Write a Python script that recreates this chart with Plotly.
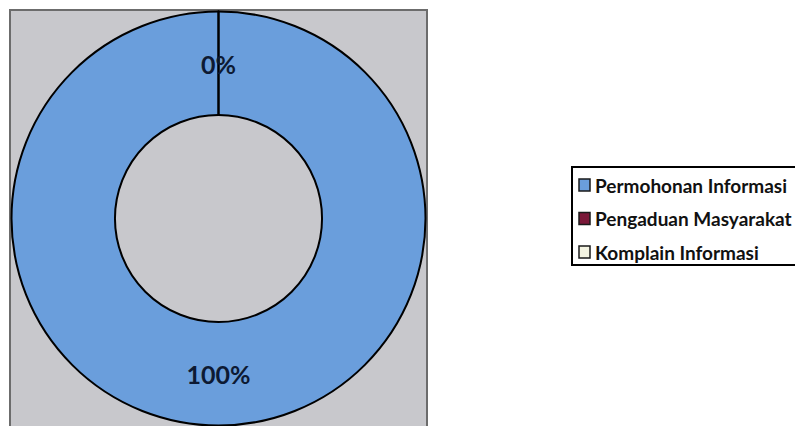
import plotly.graph_objects as go

labels = ["Permohonan Informasi", "Pengaduan Masyarakat", "Komplain Informasi"]
values = [100, 0, 0]
colors = ["#6a9edc", "#7a1838", "#f4f4e2"]

W, H = 803, 426
OFF = 8  # page body margin


def px(X):
    return (X - OFF) / W


def py(Y):
    return 1 - (Y - OFF) / H


# donut geometry in window pixels
CX, CY, R = 218.5, 218.5, 207
HOLE = 0.5

fig = go.Figure()
fig.add_trace(go.Pie(
    labels=labels,
    values=values,
    hole=HOLE,
    sort=False,
    direction="clockwise",
    rotation=0,
    marker=dict(colors=colors, line=dict(color="#000000", width=2)),
    textinfo="percent",
    texttemplate="%{percent:.0%}",
    textposition="inside",
    insidetextorientation="horizontal",
    textfont=dict(family="Lato", size=25, color="#0d1a33", weight="bold"),
    domain=dict(x=[px(CX - R), px(CX + R)], y=[py(CY + R), py(CY - R)]),
    showlegend=False,
))

# label of the zero-valued slices (plotly hides text for zero slices)
total = sum(values)
zero_pct = "{:.0%}".format(values[1] / total)
fig.add_annotation(
    x=px(CX), y=py(CY - R * (1 + HOLE) / 2 + 1), xref="paper", yref="paper",
    xanchor="center", yanchor="middle",
    text=zero_pct, showarrow=False,
    font=dict(family="Lato", size=25, color="#0d1a33", weight="bold"),
)

# grey plot area
fig.add_shape(type="rect", xref="paper", yref="paper",
              x0=px(10), x1=px(427), y0=-0.1, y1=py(10),
              fillcolor="#c8c8cc", line=dict(color="#6c6c6c", width=2), layer="below")

# legend
LX0, LY0, LY1 = 572, 167, 265
fig.add_shape(type="rect", xref="paper", yref="paper",
              x0=px(LX0), x1=px(840), y0=py(LY1), y1=py(LY0),
              fillcolor="white", line=dict(color="#000000", width=2), layer="below")
row_y = [185, 218.5, 252]
for lab, col, yy in zip(labels, colors, row_y):
    fig.add_shape(type="rect", xref="paper", yref="paper",
                  x0=px(579), x1=px(590), y0=py(yy + 6), y1=py(yy - 6),
                  fillcolor=col, line=dict(color="#1a1a1a", width=1.5))
    fig.add_annotation(x=px(593), y=py(yy), xref="paper", yref="paper",
                       text=lab, showarrow=False, xanchor="left", yanchor="middle",
                       font=dict(family="Lato", size=19, color="#111111", weight="bold"))

fig.update_layout(
    width=W, height=H,
    margin=dict(l=0, r=0, t=0, b=0),
    paper_bgcolor="white",
    plot_bgcolor="white",
    showlegend=False,
)

fig.write_html("out.html")
